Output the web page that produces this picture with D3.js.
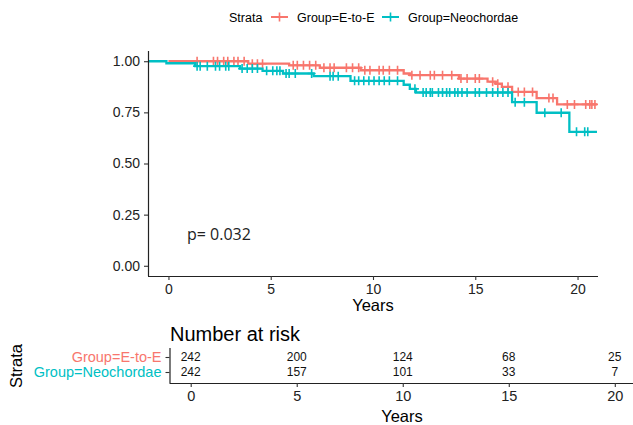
<!DOCTYPE html>
<html><head><meta charset="utf-8">
<script src="https://cdn.jsdelivr.net/npm/d3@7"></script>
<style>body{margin:0;background:#fff}svg{display:block;font-family:"Liberation Sans",Arial,sans-serif}</style>
</head><body><svg id="c" width="633" height="425"></svg>
<script>
const strata = ["Group=E-to-E", "Group=Neochordae"];
const colors = ["#F8766D", "#00BFC4"];
const redTimes = [0, 3.9, 5.9, 7.4, 9.4, 11.5, 11.8, 14.2, 15.6, 16.0, 16.3, 16.8, 18.0, 19.0, 20.95];
const redSurv  = [1.0, 0.988, 0.98, 0.968, 0.956, 0.94, 0.932, 0.915, 0.90, 0.89, 0.875, 0.85, 0.82, 0.789, 0.789];
const tealTimes = [-0.95, -0.1, 1.3, 3.5, 4.6, 5.6, 7.1, 8.9, 11.5, 11.8, 12.1, 16.8, 18.0, 19.6, 20.95];
const tealSurv  = [1.0, 0.99, 0.976, 0.964, 0.953, 0.94, 0.927, 0.904, 0.885, 0.865, 0.847, 0.80, 0.748, 0.655, 0.655];
const redCensor = [1.4, 2.2, 2.4, 2.7, 2.9, 3.2, 3.4, 3.7, 4.1, 4.35, 4.6, 6.1, 6.3, 6.6, 6.9, 7.2, 7.6, 7.9, 8.1, 8.7, 9.0, 9.3, 9.6, 9.85, 10.3, 10.5, 10.8, 11.2, 11.9, 12.3, 12.8, 13.0, 13.4, 13.85, 14.3, 14.6, 15.0, 15.2, 15.85, 16.1, 16.6, 17.1, 17.4, 17.8, 18.6, 18.8, 19.5, 19.85, 20.4, 20.6, 20.7, 20.85];
const tealCensor = [1.4, 1.55, 1.9, 2.3, 2.5, 2.8, 2.95, 3.6, 3.85, 4.1, 4.35, 4.8, 5.1, 5.3, 5.45, 5.75, 5.9, 6.2, 7.0, 7.9, 8.05, 8.3, 9.1, 9.3, 9.55, 9.8, 10.05, 10.3, 10.55, 10.8, 11.2, 12.05, 12.45, 12.6, 12.8, 12.9, 13.2, 13.4, 13.6, 13.75, 14.0, 14.15, 14.35, 14.6, 15.0, 15.2, 15.55, 15.85, 16.1, 16.35, 16.6, 16.95, 17.4, 18.4, 19.2, 19.95, 20.35, 20.5];
const xTicks = [0, 5, 10, 15, 20];
const yTicks = [0, 0.25, 0.5, 0.75, 1.0];
const riskTimes = [0, 5, 10, 15, 20];
const riskE = [242, 200, 124, 68, 25];
const riskN = [242, 157, 101, 33, 7];
const pText = "p= 0.032";

const svg = d3.select("#c");
const x = d3.scaleLinear().domain([-1, 21]).range([148, 598]);
const y = d3.scaleLinear().domain([-0.05, 1.05]).range([276, 51]);

svg.append("defs").append("clipPath").attr("id", "cp").append("rect")
  .attr("x", 148).attr("y", 51).attr("width", 450).attr("height", 225);

const series = [
  {times: redTimes, surv: redSurv, cens: redCensor, color: colors[0]},
  {times: tealTimes, surv: tealSurv, cens: tealCensor, color: colors[1]}
];
function survAt(s, t) {
  let v = s.surv[0];
  for (let i = 0; i < s.times.length; i++) if (s.times[i] <= t) v = s.surv[i];
  return v;
}
const line = d3.line().x(d => x(d[0])).y(d => y(d[1])).curve(d3.curveStepAfter);
const plot = svg.append("g").attr("clip-path", "url(#cp)");
const plus = "M-4,0H4M0,-4.5V4.5";
series.forEach(s => {
  plot.append("path").datum(s.times.map((t, i) => [t, s.surv[i]]))
    .attr("d", line).attr("fill", "none").attr("stroke", s.color).attr("stroke-width", 2.3);
  plot.selectAll(null).data(s.cens).enter().append("path")
    .attr("d", plus).attr("transform", t => `translate(${x(t)},${y(survAt(s, t))})`)
    .attr("stroke", s.color).attr("stroke-width", 1.6).attr("fill", "none");
});

// axes main
const ax = svg.append("g").attr("transform", "translate(0,276)")
  .call(d3.axisBottom(x).tickValues(xTicks).tickSize(4).tickPadding(4));
const ay = svg.append("g").attr("transform", "translate(148,0)")
  .call(d3.axisLeft(y).tickValues(yTicks).tickFormat(d3.format(".2f")).tickSize(4).tickPadding(4));
[ax, ay].forEach(a => {
  a.select(".domain").attr("stroke", "#222").attr("stroke-width", 1.2);
  a.selectAll(".tick line").attr("stroke", "#333").attr("stroke-width", 1.1);
  a.selectAll(".tick text").attr("fill", "#222").attr("font-size", 14).attr("font-family", '"Liberation Sans",Arial,sans-serif');
});
ax.select(".domain").attr("d", "M148,0.5H598");
ay.select(".domain").attr("d", "M0.5,51V276");
svg.append("text").attr("x", 373).attr("y", 311).attr("text-anchor", "middle")
  .attr("font-size", 16.5).text("Years");
svg.append("text").attr("x", 187).attr("y", 240).attr("font-family", '"Open Sans",sans-serif')
  .attr("font-size", 16).attr("fill", "#222").text(pText);

// legend
const lg = svg.append("g").attr("font-size", 12.5);
lg.append("text").attr("x", 229).attr("y", 21.5).text("Strata");
const legX = [[271, 297], [382, 408]];
strata.forEach((st, i) => {
  const g = lg.append("g");
  g.append("line").attr("x1", legX[i][0]).attr("x2", legX[i][0] + 17).attr("y1", 17).attr("y2", 17)
    .attr("stroke", colors[i]).attr("stroke-width", 2);
  g.append("path").attr("d", plus).attr("transform", `translate(${legX[i][0] + 8.5},17)`)
    .attr("stroke", colors[i]).attr("stroke-width", 1.6);
  g.append("text").attr("x", legX[i][1]).attr("y", 21.5).text(st);
});

// risk table
const tx = d3.scaleLinear().domain([-1, 21]).range([169.5, 636]);
const ty = d3.scalePoint().domain(strata).range([357, 372]);
svg.append("text").attr("x", 170).attr("y", 341).attr("font-size", 20).text("Number at risk");
const tbl = svg.append("g").attr("font-size", 12).attr("fill", "#111");
[riskE, riskN].forEach((arr, k) => {
  tbl.selectAll(null).data(riskTimes).enter().append("text")
    .attr("x", t => tx(t)).attr("y", ty(strata[k]) + 4.3).attr("text-anchor", "middle")
    .text((t, i) => arr[i]);
});
const tax = svg.append("g").attr("transform", "translate(0,383)")
  .call(d3.axisBottom(tx).tickValues(xTicks).tickSize(4).tickPadding(4));
const tay = svg.append("g").attr("transform", "translate(169.5,0)")
  .call(d3.axisLeft(ty).tickSize(4).tickPadding(4));
[tax, tay].forEach(a => {
  a.select(".domain").attr("stroke", "#222").attr("stroke-width", 1.2);
  a.selectAll(".tick line").attr("stroke", "#333").attr("stroke-width", 1.1);
  a.selectAll(".tick text").attr("font-family", '"Liberation Sans",Arial,sans-serif');
});
tax.select(".domain").attr("d", "M169.5,0.5H636");
tay.select(".domain").attr("d", "M0.5,348V383");
tax.selectAll(".tick text").attr("fill", "#222").attr("font-size", 14.5);
tay.selectAll(".tick text").attr("font-size", 14.5).attr("fill", (d, i) => colors[i]);
svg.append("text").attr("x", 402).attr("y", 422).attr("text-anchor", "middle")
  .attr("font-size", 16.5).text("Years");
svg.append("text").attr("transform", "translate(22,366) rotate(-90)").attr("text-anchor", "middle")
  .attr("font-size", 16.5).text("Strata");
</script></body></html>
